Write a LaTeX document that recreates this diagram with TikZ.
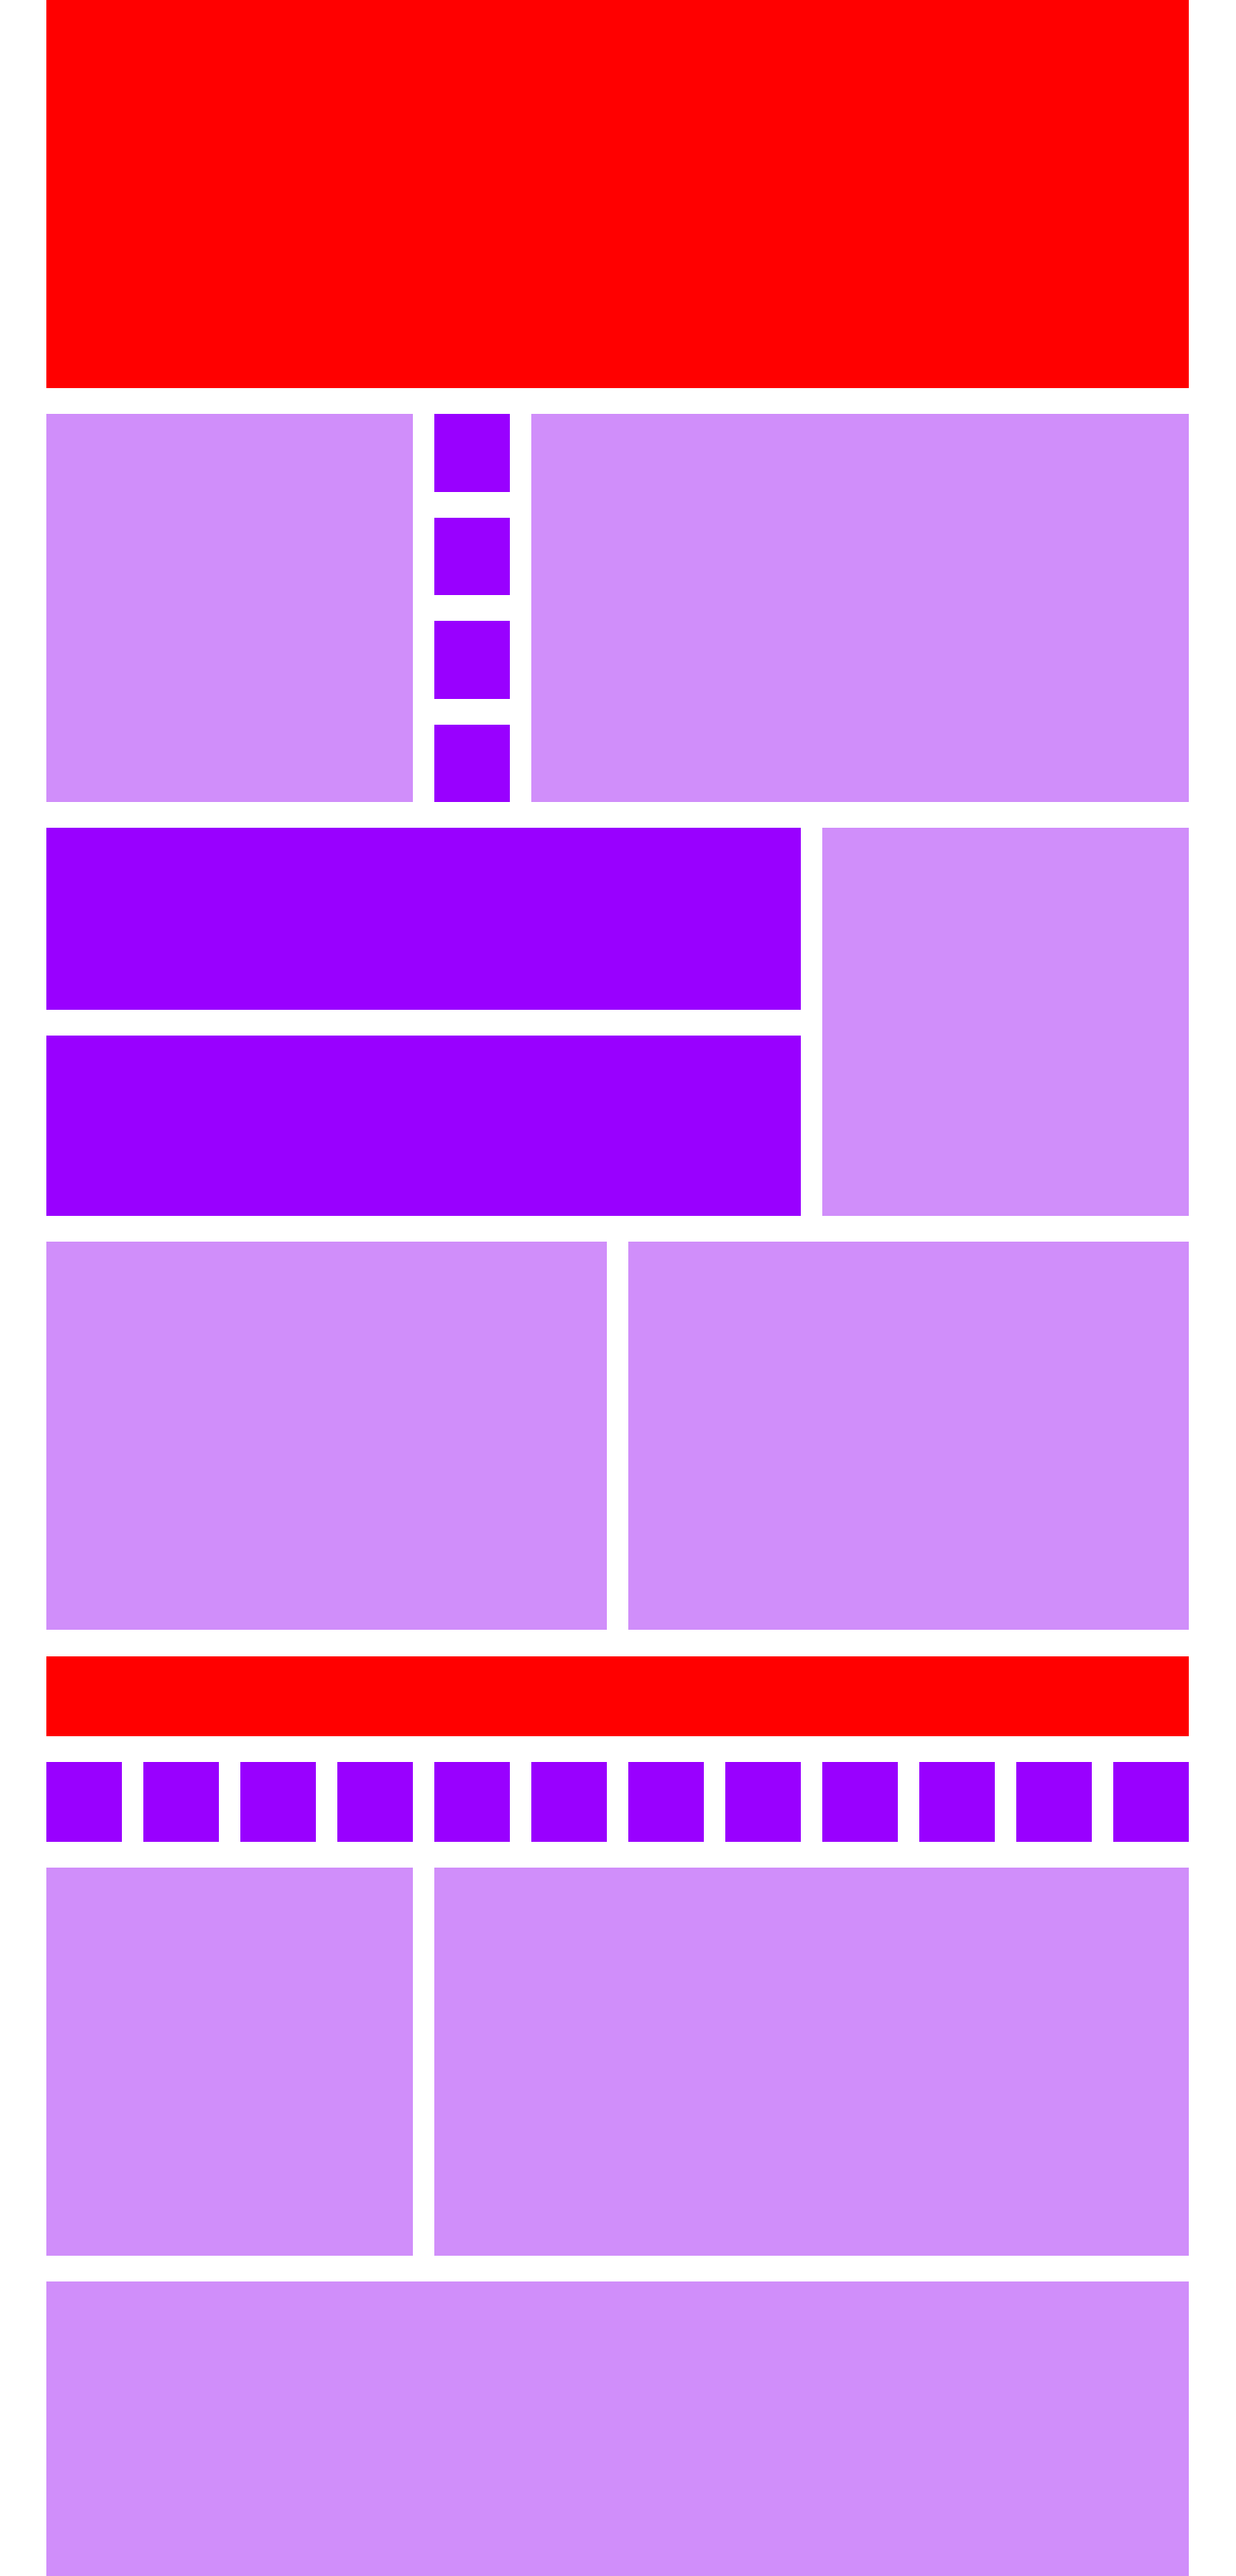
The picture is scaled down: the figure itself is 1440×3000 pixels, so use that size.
\documentclass[tikz,border=0pt]{standalone}
\definecolor{heroRed}{RGB}{255,0,0}
\definecolor{tilePurple}{RGB}{153,0,255}
\definecolor{panelLilac}{RGB}{208,142,250}
\begin{document}
\begin{tikzpicture}[
    x=0.01cm, y=-0.01cm,
    hero/.style={fill=heroRed},
    tile/.style={fill=tilePurple},
    panel/.style={fill=panelLilac}
]
\useasboundingbox (0,0) rectangle (1440,3000);

% Top banner
\fill[hero] (54,0) rectangle (1385,452);

% Row 2 - panel, column of four tiles, wide panel
\fill[panel] (54,482) rectangle (481,934);
\foreach \i in {0,...,3}
    \fill[tile] (506,{482+120.5*\i}) rectangle (594,{572.5+120.5*\i});
\fill[panel] (619,482) rectangle (1385,934);

% Row 3 - two wide tiles stacked, panel on the right
\fill[tile] (54,964) rectangle (933,1175.5);
\fill[tile] (54,1205.5) rectangle (933,1416);
\fill[panel] (958,964) rectangle (1385,1416);

% Row 4 - two halves
\fill[panel] (54,1446) rectangle (707,1898);
\fill[panel] (732,1446) rectangle (1385,1898);

% Thin banner
\fill[hero] (54,1928.5) rectangle (1385,2021.5);

% Row of twelve tiles
\foreach \i in {0,...,11}
    \fill[tile] ({54+113*\i},2052) rectangle ({142+113*\i},2145);

% Row 7 - narrow panel and wide panel
\fill[panel] (54,2175) rectangle (481,2627);
\fill[panel] (506,2175) rectangle (1385,2627);

% Bottom panel (runs off the page)
\fill[panel] (54,2657) rectangle (1385,3000);

\end{tikzpicture}
\end{document}
